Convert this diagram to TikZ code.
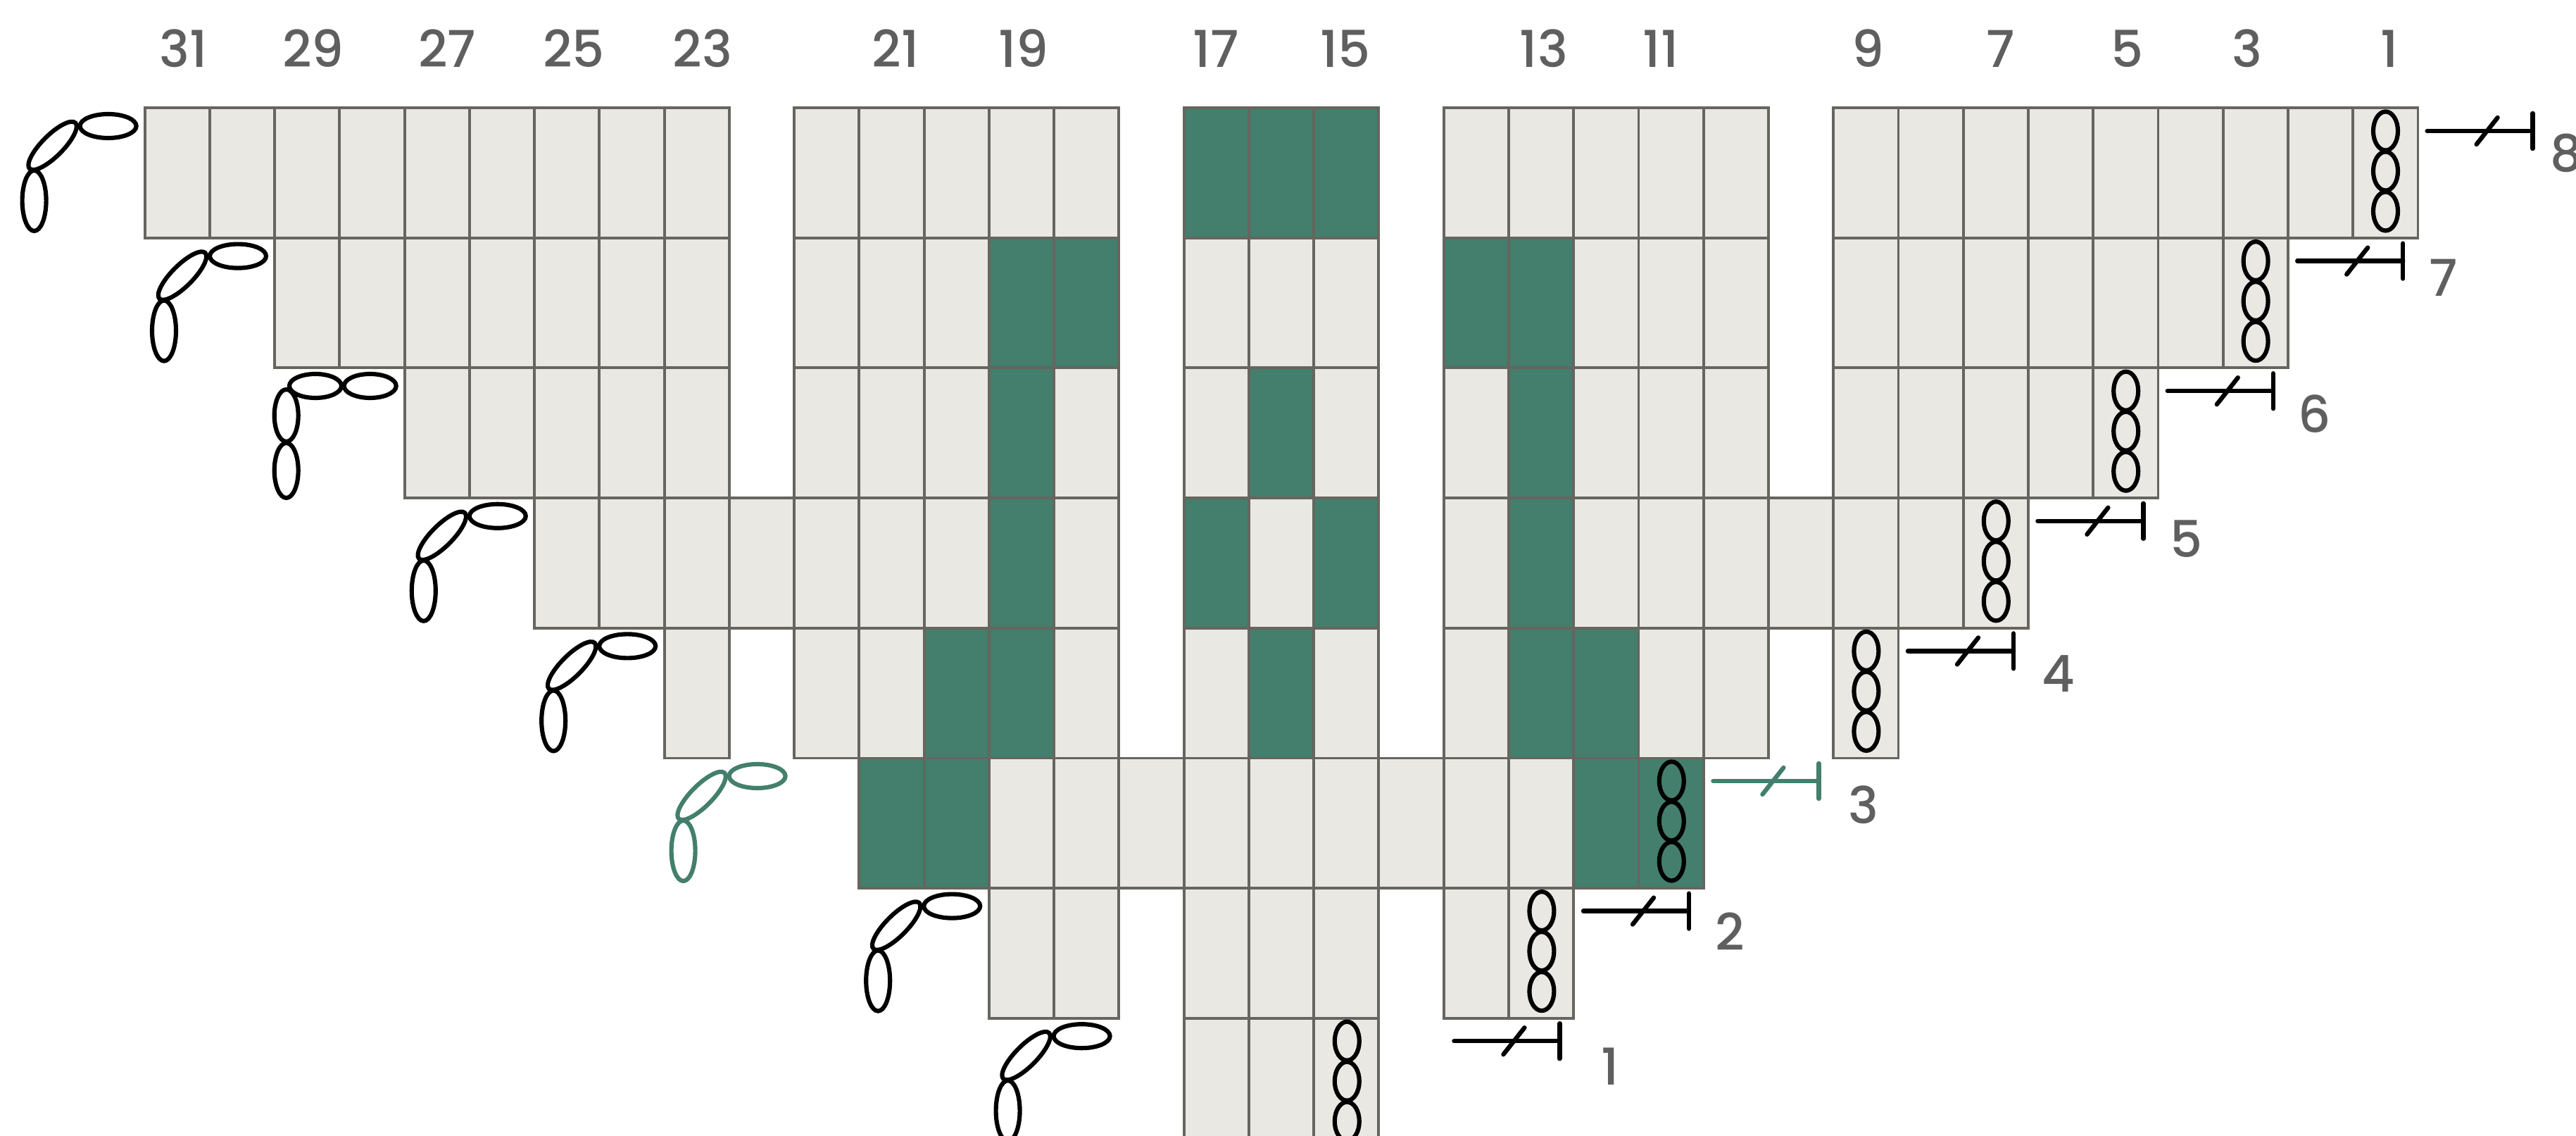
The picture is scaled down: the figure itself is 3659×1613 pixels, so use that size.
\documentclass[tikz,border=0pt]{standalone}
\usepackage{fontspec}
\setmainfont{Poppins Medium}
\definecolor{cellgrey}{RGB}{233,232,227}
\definecolor{gridgrey}{RGB}{102,101,96}
\definecolor{stitchgreen}{RGB}{67,127,108}
\definecolor{labelgrey}{RGB}{95,95,95}
\tikzset{
  cell/.style={draw=gridgrey, fill=cellgrey, line width=1.1pt},
  greencell/.style={draw=gridgrey, fill=stitchgreen, line width=1.1pt},
  link/.style={line width=1.75pt},
  tickline/.style={line width=1.8pt, line cap=round},
  numlabel/.style={text=labelgrey, font=\fontsize{20.5pt}{20.5pt}\selectfont, inner sep=0pt}
}
% turning chain beside a row, placed from the row's corner
\newcommand{\sidechain}[3]{
  \begin{scope}[shift={(#1,#2)}, link, draw=#3]
    \draw (-52,26) ellipse [x radius=40, y radius=17];
    \draw[rotate around={45:(-131,54)}] (-131,54) ellipse [x radius=46, y radius=15];
    \draw (-157,132) ellipse [x radius=17, y radius=43];
  \end{scope}
}
\newcommand{\flatchain}[3]{
  \begin{scope}[shift={(#1,#2)}, link, draw=#3]
    \draw (-48.7,25.8) ellipse [x radius=37, y radius=17];
    \draw (-126.4,25.8) ellipse [x radius=37, y radius=17];
    \draw (-167.7,67.8) ellipse [x radius=17, y radius=37];
    \draw (-167.7,145.8) ellipse [x radius=17, y radius=39];
  \end{scope}
}
\begin{document}
\begin{tikzpicture}[x=0.01cm, y=-0.01cm]
  \useasboundingbox (0,0) rectangle (3659,1613);
  \clip (0,0) rectangle (3659,1613);
  \fill[white] (0,0) rectangle (3659,1613);

  % chart cells
  \begin{scope}[shift={(205.6,153)}, x=0.922cm, y=-1.846cm]
    \foreach \r/\cols in {
      0/{0,...,8,10,11,...,14,16,17,18,20,21,...,24,26,27,...,34},
      1/{2,...,8,10,11,...,14,16,17,18,20,21,...,24,26,27,...,32},
      2/{4,...,8,10,11,...,14,16,17,18,20,21,...,24,26,27,...,30},
      3/{6,...,14,16,17,18,20,21,...,28},
      4/{8,10,11,...,14,16,17,18,20,21,...,24,26},
      5/{11,...,23},
      6/{13,14,16,17,18,20,21},
      7/{16,17,18}}
      \foreach \c in \cols
        \draw[cell] (\c,\r) rectangle ++(1,1);
    \foreach \r/\c in {0/16,0/17,0/18,1/13,1/14,1/20,1/21,2/13,2/17,2/21,3/13,3/16,3/18,3/21,
      4/12,4/13,4/17,4/21,4/22,5/11,5/12,5/22,5/23}
      \draw[greencell] (\c,\r) rectangle ++(1,1);
  \end{scope}

  % column numbers
  \foreach \n/\px in {31/261,29/445,27/635,25/815,23/998,21/1272,19/1454,17/1727,15/1911,
    13/2193,11/2359,9/2653,7/2842,5/3022,3/3192,1/3394}
    \node[numlabel] (col\n) at (\px,69) {\n};

  % row numbers
  \foreach \n/\px/\py in {8/3645/217,7/3471/394,6/3288/588,5/3106/765,4/2924/957,3/2647/1143,
    2/2457/1323,1/2287/1514}
    \node[numlabel] (row\n) at (\px,\py) {\n};

  % chains inside the last cell and ticks beside them
  \foreach \r/\c/\off/\ink in {0/34/15/black,1/32/15/black,2/30/15/black,3/28/15/black,
    4/26/15/black,5/23/15/stitchgreen,6/21/15/black,7/18/108/black} {
    \pgfmathsetmacro{\cx}{205.6+92.2*(\c+0.5)+2}
    \pgfmathsetmacro{\top}{153+184.6*\r}
    \pgfmathsetmacro{\tx}{205.6+92.2*(\c+1)+\off}
    \foreach \dy in {33,90,147}
      \draw[link] (\cx,\top+\dy) ellipse [x radius=17.5, y radius=27.5];
    \draw[tickline, \ink] (\tx,\top+33) -- (\tx+150,\top+33);
    \draw[tickline, \ink] (\tx+150,\top+8) -- (\tx+150,\top+58);
    \draw[tickline, \ink] (\tx+70,\top+52) -- (\tx+100,\top+14);
  }

  % chains at the row ends
  \sidechain{205.6}{153}{black}
  \sidechain{390}{337.6}{black}
  \flatchain{574.4}{522.2}{black}
  \sidechain{758.8}{706.8}{black}
  \sidechain{943.2}{891.4}{black}
  \sidechain{1127.6}{1076}{stitchgreen}
  \sidechain{1404.2}{1260.6}{black}
  \sidechain{1588.6}{1445.2}{black}
\end{tikzpicture}
\end{document}
